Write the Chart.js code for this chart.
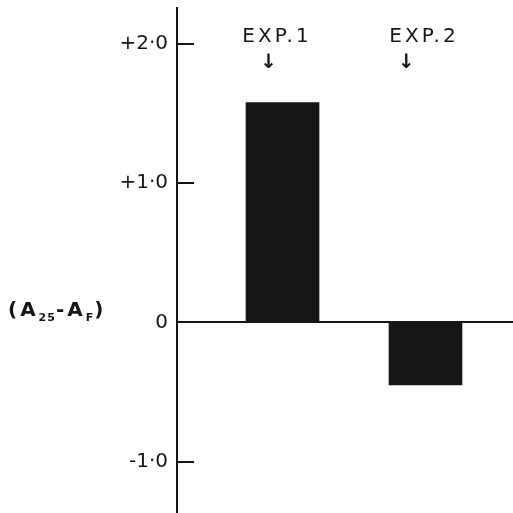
<!DOCTYPE html>
<html>
<head>
<meta charset="utf-8">
<script src="https://cdn.jsdelivr.net/npm/chart.js@4/dist/chart.umd.min.js"></script>
<style>
  html, body { margin: 0; padding: 0; background: #fff; }
  #wrap { width: 513px; height: 513px; }
</style>
</head>
<body>
<div id="wrap"><canvas id="expChart"></canvas></div>
<script>
// data
const experiments = ['EXP.1', 'EXP.2'];
const positions = [1, 2];
const deltaA = [1.58, -0.45];
const yTicks = [-1, 0, 1, 2];
const yTickLabels = ['-1·0', '0', '+1·0', '+2·0'];

const INK = '#161616';

// inner tick marks, labels above bars and the y title
const annotate = {
    id: 'annotate',
    afterDraw(chart) {
        const ctx = chart.ctx;
        const x = chart.scales.x;
        const y = chart.scales.y;
        const left = chart.chartArea.left;

        ctx.save();
        ctx.strokeStyle = INK;
        ctx.lineWidth = 2;
        yTicks.forEach(v => {
            if (v === 0) return;
            const py = Math.round(y.getPixelForValue(v));
            ctx.beginPath();
            ctx.moveTo(left, py);
            ctx.lineTo(left + 17, py);
            ctx.stroke();
        });

        ctx.fillStyle = INK;
        ctx.textBaseline = 'alphabetic';
        const textShift = [-7, -3];
        const arrowShift = [-14, -19];
        experiments.forEach((name, i) => {
            const px = x.getPixelForValue(positions[i]);
            ctx.textAlign = 'center';
            ctx.letterSpacing = '3px';
            ctx.font = '20px "DejaVu Sans"';
            ctx.fillText(name, px + textShift[i] + 1.5, 42);
            ctx.letterSpacing = '0px';
            ctx.font = 'bold 20px "DejaVu Sans"';
            ctx.fillText('↓', px + arrowShift[i], 68);
        });

        // (A25-AF)
        ctx.textAlign = 'left';
        let cx = 8;
        const base = 316;
        const part = (txt, size, dy) => {
            ctx.font = 'bold ' + size + 'px "DejaVu Sans"';
            ctx.letterSpacing = size > 12 ? '3px' : '1px';
            ctx.fillText(txt, cx, base + dy);
            cx += ctx.measureText(txt).width;
        };
        part('(A', 20, 0);
        part('25', 11, 5);
        part('-A', 20, 0);
        part('F', 11, 5);
        part(')', 20, 0);
        ctx.restore();
    }
};

new Chart(document.getElementById('expChart'), {
    type: 'bar',
    data: {
        datasets: [{
            data: positions.map((p, i) => ({ x: p, y: deltaA[i] })),
            backgroundColor: INK,
            borderWidth: 0,
            barThickness: 73
        }]
    },
    options: {
        responsive: true,
        maintainAspectRatio: false,
        animation: false,
        layout: { padding: { top: 8, right: 0, bottom: 0, left: 0 } },
        plugins: {
            legend: { display: false },
            tooltip: { enabled: false }
        },
        scales: {
            x: {
                type: 'linear',
                offset: false,
                min: 0.262,
                max: 2.612,
                display: false
            },
            y: {
                min: -1.37,
                max: 2.26,
                afterBuildTicks: scale => {
                    scale.ticks = yTicks.map(v => ({ value: v }));
                },
                afterFit: scale => {
                    scale.width = 177;
                    scale.paddingTop = 0;
                    scale.paddingBottom = 0;
                },
                border: { display: true, color: INK, width: 2 },
                grid: {
                    drawTicks: false,
                    lineWidth: 2,
                    color: c => (c.tick && c.tick.value === 0) ? INK : 'rgba(0,0,0,0)'
                },
                ticks: {
                    padding: 9,
                    color: INK,
                    font: { family: 'DejaVu Sans', size: 20 },
                    callback: v => yTickLabels[yTicks.indexOf(v)]
                }
            }
        }
    },
    plugins: [annotate]
});
</script>
</body>
</html>
